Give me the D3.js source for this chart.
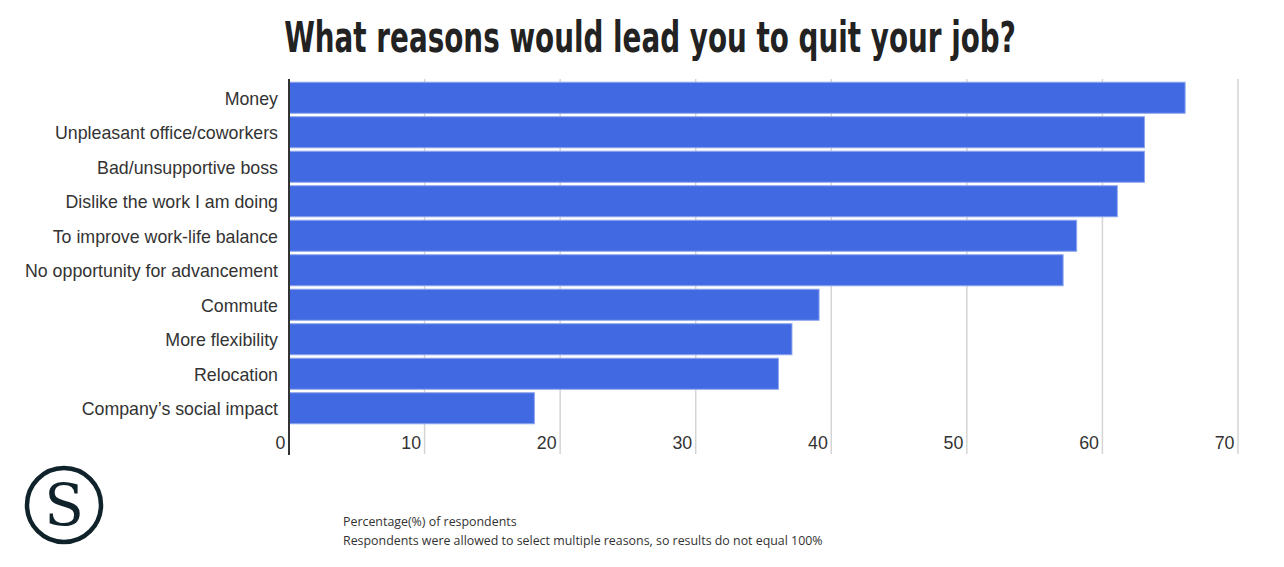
<!DOCTYPE html>
<html><head><meta charset="utf-8">
<script src="https://cdn.jsdelivr.net/npm/d3@7"></script>
<style>body{margin:0;background:#fff;}svg{display:block;}</style>
</head><body>
<svg id="c" width="1284" height="567"></svg>
<script>
const categories = ["Money","Unpleasant office/coworkers","Bad/unsupportive boss","Dislike the work I am doing","To improve work-life balance","No opportunity for advancement","Commute","More flexibility","Relocation","Company\u2019s social impact"];
const values = [66.1, 63.1, 63.1, 61.1, 58.1, 57.1, 39.1, 37.1, 36.1, 18.1];
const ticks = [0,10,20,30,40,50,60,70];
const title = "What reasons would lead you to quit your job?";
const notes = ["Percentage(%) of respondents","Respondents were allowed to select multiple reasons, so results do not equal 100%"];

const svg = d3.select("#c");
const x = d3.scaleLinear().domain([0,70]).range([289,1238]);
const y = d3.scaleBand().domain(categories).range([80.5,425.5]).paddingInner(0.1).paddingOuter(0.05);

const tg = svg.append("g");
const tt = tg.append("text").attr("x",0).attr("y",0).attr("text-anchor","middle")
  .style("font-family","'Liberation Sans Narrow','DejaVu Sans Condensed',sans-serif")
  .style("font-weight","bold").style("font-size","43px").attr("fill","#222").text(title);
const tw = tt.node().getComputedTextLength();
tg.attr("transform",`translate(650,52) scale(${732/tw},1)`);

// gridlines
svg.append("g").selectAll("line").data(ticks.filter(d=>d>0)).join("line")
  .attr("x1",d=>x(d)).attr("x2",d=>x(d)).attr("y1",79).attr("y2",454)
  .attr("stroke","#d4d4d4").attr("stroke-width",1.5);

// bars
svg.append("g").selectAll("rect").data(values).join("rect")
  .attr("x",x(0)).attr("y",(d,i)=>y(categories[i]))
  .attr("width",d=>x(d)-x(0)).attr("height",y.bandwidth())
  .attr("fill","#4169e1").attr("stroke","#8ea6ef").attr("stroke-width",1);

// category labels
const yAxis = d3.axisLeft(y).tickSize(0).tickPadding(11);
const gy = svg.append("g").attr("transform",`translate(${x(0)},1.5)`).call(yAxis);
gy.select(".domain").remove();
gy.selectAll("text").style("font-family","'Liberation Sans',Arial,sans-serif").style("font-size","17.8px").attr("fill","#333");

// x tick labels
const xAxis = d3.axisBottom(x).tickValues(ticks).tickSize(0).tickPadding(0);
const gx = svg.append("g").attr("transform","translate(0,443)").call(xAxis);
gx.select(".domain").remove();
gx.selectAll("text").attr("text-anchor","end").attr("dx",-4).attr("dy","0.35em")
  .style("font-family","'Liberation Sans',Arial,sans-serif").style("font-size","17.8px").attr("fill","#333");

// left axis line
svg.append("line").attr("x1",x(0)).attr("x2",x(0)).attr("y1",79).attr("y2",455)
  .attr("stroke","#333").attr("stroke-width",2);

// notes
svg.append("g").selectAll("text").data(notes).join("text")
  .attr("x",343).attr("y",(d,i)=>526+i*19)
  .style("font-family","'Open Sans','Noto Sans',sans-serif").style("font-size","12.4px").attr("fill","#333").text(d=>d);

// logo
svg.append("circle").attr("cx",64).attr("cy",505).attr("r",37).attr("fill","none").attr("stroke","#10232a").attr("stroke-width",4.5);
svg.append("text").attr("x",64).attr("y",525).attr("text-anchor","middle")
  .style("font-family","'DejaVu Serif','Liberation Serif',serif").style("font-size","58px").attr("fill","#10232a").text("S");
</script>
</body></html>
